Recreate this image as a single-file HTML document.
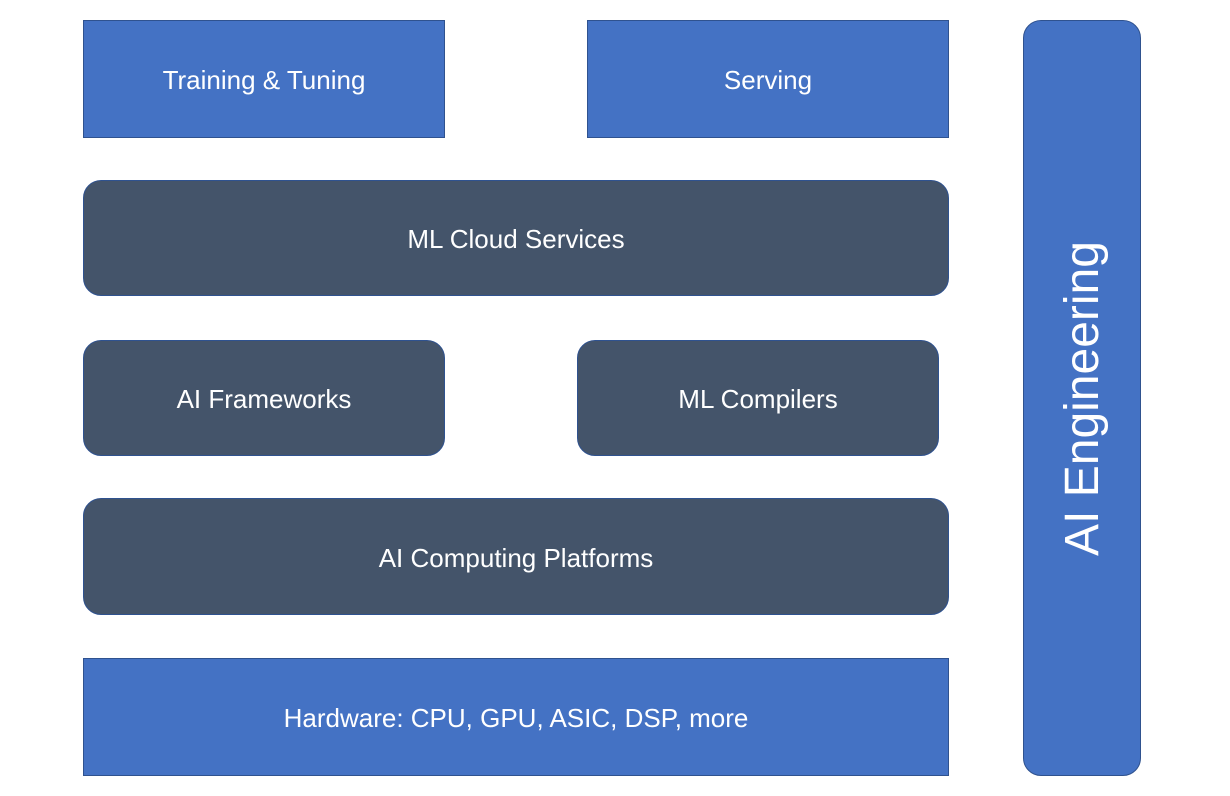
<!DOCTYPE html>
<html><head><style>
body{margin:0;width:1230px;height:796px;background:#fff;position:relative;overflow:hidden;font-family:"Liberation Sans",sans-serif;}
.b{position:absolute;box-sizing:border-box;display:flex;align-items:center;justify-content:center;color:#fff;font-size:26px;padding-top:3px;}
.blue{background:#4472C4;border:1.5px solid #2F528F;}
.dark{background:#44546A;border:1.5px solid #2F528F;border-radius:18px;}
</style></head><body>
<div class="b blue" style="left:83px;top:20px;width:362px;height:118px">Training &amp; Tuning</div>
<div class="b blue" style="left:587px;top:20px;width:362px;height:118px">Serving</div>
<div class="b dark" style="left:83px;top:180px;width:866px;height:116px">ML Cloud Services</div>
<div class="b dark" style="left:83px;top:340px;width:362px;height:116px">AI Frameworks</div>
<div class="b dark" style="left:577px;top:340px;width:362px;height:116px">ML Compilers</div>
<div class="b dark" style="left:83px;top:498px;width:866px;height:117px">AI Computing Platforms</div>
<div class="b blue" style="left:83px;top:658px;width:866px;height:118px">Hardware: CPU, GPU, ASIC, DSP, more</div>
<div class="b blue" style="left:1023px;top:20px;width:118px;height:756px;border-radius:18px"></div>
<div class="b" style="left:1082px;top:398px;width:0;height:0;overflow:visible;padding:0"><span style="display:block;transform:rotate(-90deg);white-space:nowrap;font-size:48px">AI Engineering</span></div>
</body></html>
